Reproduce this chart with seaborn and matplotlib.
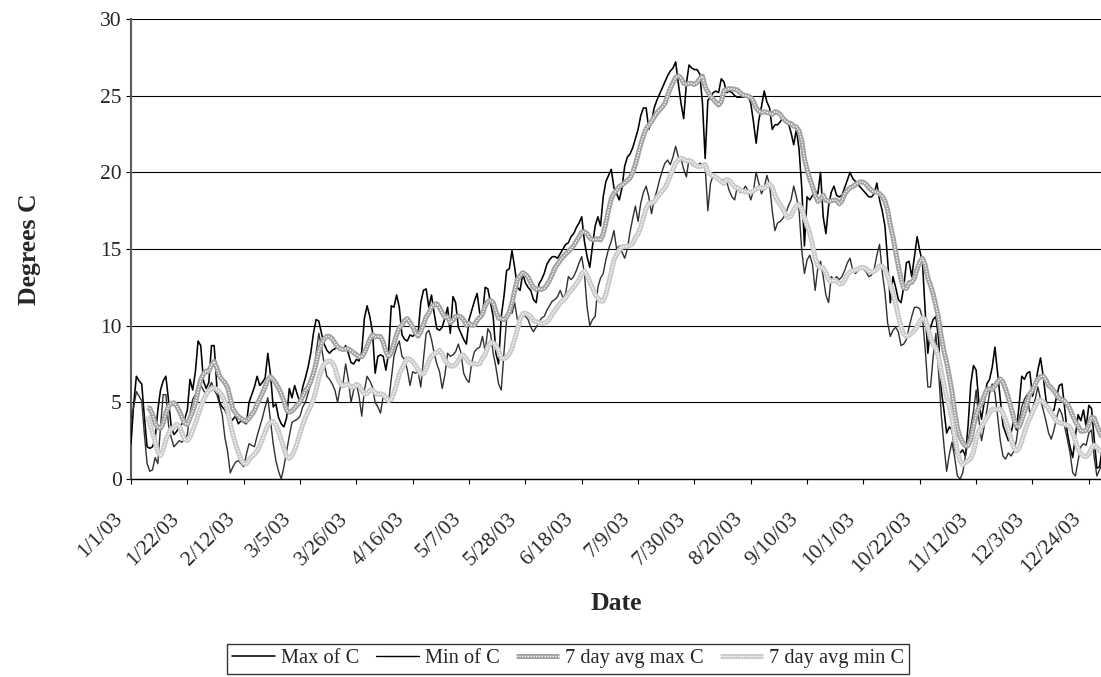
import numpy as np
import pandas as pd
import matplotlib
matplotlib.use("Agg")
import matplotlib.pyplot as plt
import seaborn as sns
from matplotlib.lines import Line2D
from matplotlib.legend_handler import HandlerTuple
from matplotlib.transforms import ScaledTranslation

# Daily maximum temperature (deg C), 2003, one list per month
max_jan = [2.3, 4.9, 6.7, 6.4, 6.2, 4.0, 2.1, 2.0, 2.1, 2.6, 4.5, 5.8, 6.4, 6.7, 5.1, 3.4,
           2.9, 3.1, 3.4, 3.6, 3.9, 4.5, 6.5, 5.8, 7.0, 9.0, 8.7, 6.4, 5.9, 6.3, 8.7]
max_feb = [8.7, 6.0, 5.0, 4.7, 4.5, 4.1, 3.7, 3.9, 4.1, 3.6, 3.8, 3.7, 3.6, 5.0, 5.5, 6.0,
           6.7, 6.1, 6.3, 6.6, 8.2, 6.8, 4.7, 4.9, 4.0, 3.6, 3.4, 4.0]
max_mar = [5.9, 5.3, 6.1, 5.5, 5.0, 6.0, 6.6, 7.3, 8.2, 9.5, 10.4, 10.3, 9.5, 8.8, 8.4, 8.2,
           8.4, 8.5, 8.6, 8.6, 8.4, 8.7, 8.2, 7.6, 7.5, 7.8, 7.7, 8.3, 10.5, 11.3, 10.6]
max_apr = [9.6, 6.9, 8.0, 8.1, 8.0, 7.1, 8.2, 11.3, 11.2, 12.0, 11.2, 9.4, 9.1, 9.0, 9.4,
           9.3, 9.5, 9.5, 11.5, 12.3, 12.4, 11.2, 12.0, 10.8, 9.8, 9.7, 9.9, 10.5, 11.2, 9.5]
max_may = [11.9, 11.5, 9.9, 9.5, 9.1, 8.8, 10.4, 11.0, 11.6, 12.1, 10.8, 10.6, 12.5, 12.4,
           11.5, 10.6, 8.2, 7.5, 10.6, 11.9, 13.6, 13.7, 14.9, 13.8, 12.5, 12.3, 13.4, 12.8,
           12.5, 12.3, 11.7]
max_jun = [11.5, 12.7, 13.0, 13.4, 14.0, 14.3, 14.5, 14.5, 14.4, 14.7, 15.0, 15.3, 15.4,
           15.8, 16.0, 16.4, 16.7, 17.1, 15.5, 14.5, 13.8, 15.2, 16.5, 17.1, 16.5, 18.4,
           19.4, 19.8, 20.2, 19.0]
max_jul = [18.6, 18.2, 19.0, 20.4, 21.0, 21.2, 21.6, 22.2, 22.8, 23.7, 24.2, 24.2, 22.8,
           23.3, 24.2, 24.7, 25.1, 25.5, 25.9, 26.3, 26.6, 26.8, 27.2, 25.8, 24.5, 23.5,
           25.8, 27.0, 26.8, 26.7, 26.7]
max_aug = [26.4, 24.5, 20.9, 24.7, 24.9, 25.2, 25.3, 25.2, 26.1, 25.9, 25.2, 25.3, 25.2,
           25.0, 24.9, 24.9, 24.9, 24.9, 25.0, 24.5, 23.3, 21.9, 23.4, 24.3, 25.3, 24.6,
           24.2, 22.8, 23.1, 23.1, 23.3]
max_sep = [23.6, 23.4, 23.2, 22.6, 21.8, 22.8, 21.5, 19.0, 15.2, 18.4, 18.2, 18.5, 18.8,
           18.6, 20.0, 17.1, 16.0, 17.8, 18.7, 19.1, 18.5, 18.4, 18.5, 19.0, 19.5, 20.0,
           19.6, 19.4, 19.2, 19.0]
max_oct = [18.8, 18.6, 18.4, 18.4, 18.6, 19.3, 18.2, 17.5, 16.5, 14.3, 11.5, 13.2, 12.5,
           11.7, 11.5, 12.5, 14.1, 14.2, 13.2, 14.5, 15.8, 14.9, 14.1, 11.0, 8.2, 9.9, 10.4,
           10.6, 9.1, 5.8, 4.5]
max_nov = [3.0, 3.4, 3.2, 1.9, 1.5, 1.7, 1.9, 1.5, 3.5, 6.2, 7.4, 7.1, 5.0, 3.9, 5.0, 6.2,
           6.5, 7.3, 8.6, 6.9, 5.2, 3.5, 3.0, 2.5, 3.0, 3.8, 3.2, 4.8, 6.7, 6.5]
max_dec = [6.9, 7.0, 5.4, 6.0, 7.1, 7.9, 6.7, 5.2, 4.4, 4.4, 4.5, 5.4, 6.1, 6.2, 4.6, 3.0,
           2.1, 1.4, 2.8, 4.2, 3.8, 4.5, 3.4, 4.8, 4.6, 2.6, 0.7, 0.8, 2.0, 3.0, 3.5]

# Daily minimum temperature (deg C), 2003, one list per month
min_jan = [4.0, 4.7, 5.7, 5.4, 5.1, 2.9, 1.0, 0.5, 0.6, 1.4, 1.0, 3.4, 5.5, 5.5, 3.5, 2.7,
           2.1, 2.3, 2.5, 2.4, 2.6, 2.9, 4.3, 5.2, 5.5, 6.2, 6.1, 5.8, 5.5, 5.9, 6.3]
min_feb = [5.8, 5.5, 4.9, 4.2, 2.7, 1.8, 0.4, 0.8, 1.1, 1.2, 1.0, 0.8, 1.6, 2.3, 2.2, 2.1,
           2.8, 3.4, 4.0, 4.7, 5.3, 3.8, 2.3, 1.2, 0.5, 0.0, 0.8, 1.8]
min_mar = [2.8, 3.7, 3.8, 3.9, 4.1, 4.7, 5.0, 5.6, 6.2, 6.9, 8.2, 9.5, 8.6, 7.5, 6.7, 6.5,
           6.2, 5.8, 5.0, 6.0, 6.2, 7.5, 6.5, 5.0, 5.8, 6.2, 5.4, 4.1, 5.8, 6.7, 6.4]
min_apr = [6.0, 5.0, 4.7, 4.3, 5.4, 5.4, 5.0, 6.5, 8.0, 8.6, 9.0, 8.0, 7.8, 7.1, 6.1, 7.0,
           6.9, 7.0, 6.0, 7.8, 9.5, 9.7, 9.1, 8.2, 7.5, 7.0, 5.9, 6.8, 8.2, 8.0]
min_may = [8.1, 8.3, 8.8, 8.2, 6.9, 6.5, 6.3, 7.6, 8.3, 8.5, 8.6, 9.3, 8.3, 9.8, 9.5, 8.2,
           7.3, 6.2, 5.8, 8.2, 10.4, 11.0, 10.8, 11.5, 10.4, 10.6, 10.8, 10.6, 10.4, 9.9, 9.6]
min_jun = [9.9, 10.2, 10.5, 10.6, 11.0, 11.3, 11.6, 11.7, 11.9, 12.3, 11.8, 12.1, 13.2,
           13.0, 13.2, 13.6, 14.1, 14.5, 13.4, 11.2, 10.0, 10.4, 10.6, 12.5, 13.1, 13.4,
           14.3, 15.0, 15.5, 16.2]
min_jul = [15.0, 15.2, 14.8, 14.4, 15.0, 16.1, 17.0, 17.8, 16.8, 18.0, 18.7, 19.1, 18.4,
           17.3, 18.2, 18.8, 19.5, 20.1, 20.6, 20.8, 20.5, 21.0, 21.7, 21.0, 20.9, 20.2,
           19.7, 20.9, 20.5, 20.4, 20.3]
min_aug = [20.6, 20.5, 20.4, 17.5, 19.3, 19.8, 19.7, 19.6, 19.5, 19.5, 19.4, 18.8, 18.4,
           18.2, 19.1, 18.7, 18.8, 19.1, 18.8, 18.2, 18.8, 20.0, 19.3, 18.6, 19.0, 19.8,
           19.2, 17.5, 16.2, 16.7, 16.8]
min_sep = [17.0, 17.3, 17.8, 18.2, 19.1, 18.4, 17.5, 14.9, 13.4, 14.3, 14.6, 14.0, 12.3,
           13.8, 14.2, 13.2, 12.0, 11.5, 13.2, 13.0, 13.2, 13.0, 13.2, 13.6, 14.1, 14.4,
           13.6, 13.4, 13.6, 13.8]
min_oct = [13.7, 13.5, 13.2, 13.3, 13.7, 14.6, 15.3, 13.5, 12.2, 10.2, 9.3, 9.7, 9.9, 9.6,
           8.7, 8.8, 9.1, 9.9, 10.6, 11.2, 11.2, 11.1, 10.5, 8.5, 6.0, 6.0, 8.0, 9.5, 7.0,
           4.2, 2.2]
min_nov = [0.5, 1.6, 2.4, 1.4, 0.2, 0.0, 0.4, 1.5, 2.5, 3.4, 4.4, 5.8, 3.9, 2.5, 3.4, 4.5,
           5.6, 6.2, 5.6, 4.1, 2.5, 1.5, 1.3, 1.7, 1.5, 1.8, 2.5, 3.8, 4.7, 5.2]
min_dec = [5.5, 4.3, 4.6, 5.2, 6.0, 5.2, 4.5, 3.8, 3.0, 2.6, 3.2, 4.0, 4.6, 4.2, 3.4, 2.6,
           1.7, 0.4, 0.2, 1.2, 2.1, 2.3, 2.2, 3.0, 3.2, 1.4, 0.2, 0.6, 1.2, 1.8, 2.0]

# Category labels shown on the date axis, one every 21 days
tick_labels = ["1/1/03", "1/22/03", "2/12/03", "3/5/03", "3/26/03", "4/16/03", "5/7/03",
               "5/28/03", "6/18/03", "7/9/03", "7/30/03", "8/20/03", "9/10/03", "10/1/03",
               "10/22/03", "11/12/03", "12/3/03", "12/24/03"]
tick_step = 21

series_names = ["Max of C", "Min of C", "7 day avg max C", "7 day avg min C"]

tmax = np.concatenate([max_jan, max_feb, max_mar, max_apr, max_may, max_jun,
                       max_jul, max_aug, max_sep, max_oct, max_nov, max_dec])
tmin = np.concatenate([min_jan, min_feb, min_mar, min_apr, min_may, min_jun,
                       min_jul, min_aug, min_sep, min_oct, min_nov, min_dec])

df = pd.DataFrame({"day": np.arange(len(tmax)), "max_c": tmax, "min_c": tmin})
# trailing seven-day means
df["avg_max"] = df["max_c"].rolling(7).mean()
df["avg_min"] = df["min_c"].rolling(7).mean()

sns.set_style("white")
plt.rcParams["font.family"] = ["Liberation Serif", "DejaVu Serif"]

W, H = 1101, 677
fig = plt.figure(figsize=(W / 100, H / 100), dpi=100)
px_per_day = 2.683
ax = fig.add_axes([131 / W, (H - 479) / H, 364 * px_per_day / W, 460 / H])

AVG_MAX_COL = "#a2a2a2"
AVG_MIN_COL = "#cacaca"
BAND_LW = 3.6
DOT_LW = 1.0
DOT_LS = (0, (1.0, 1.0))

sns.lineplot(data=df, x="day", y="max_c", color="black", linewidth=1.15,
             estimator=None, ax=ax, zorder=3)
sns.lineplot(data=df, x="day", y="min_c", color="#303030", linewidth=1.0,
             estimator=None, ax=ax, zorder=3)
for col, shade in (("avg_max", AVG_MAX_COL), ("avg_min", AVG_MIN_COL)):
    sub = df.dropna(subset=[col])
    sns.lineplot(data=sub, x="day", y=col, color=shade, linewidth=BAND_LW,
                 estimator=None, ax=ax, zorder=4, solid_capstyle="butt")
    sns.lineplot(data=sub, x="day", y=col, color="white", linewidth=DOT_LW,
                 estimator=None, ax=ax, zorder=5, linestyle=DOT_LS)

ax.set_xlim(0, 364)
ax.set_ylim(0, 30)
ax.set_yticks(range(0, 31, 5))
ax.yaxis.grid(True, color="black", linewidth=0.8)
ax.xaxis.grid(False)
ax.set_axisbelow(True)

for side in ("top", "right"):
    ax.spines[side].set_visible(False)
ax.spines["left"].set_color("#5a5a5a")
ax.spines["left"].set_linewidth(1.5)
ax.spines["bottom"].set_color("black")
ax.spines["bottom"].set_linewidth(1.0)

ax.tick_params(axis="y", direction="out", length=3.6, width=0.8, color="black",
               labelsize=15.5, pad=3, left=True)
ax.tick_params(axis="x", direction="out", length=3.6, width=0.8, color="black",
               labelsize=15.5, pad=23, bottom=True)
ax.set_xticks(np.arange(len(tick_labels)) * tick_step)
ax.set_xticklabels(tick_labels, rotation=45, ha="right", va="center",
                   rotation_mode="anchor")
shift = ScaledTranslation(-11 / 100, 0, fig.dpi_scale_trans)
for lbl in ax.get_xticklabels():
    lbl.set_transform(lbl.get_transform() + shift)

ax.set_xlabel("Date", fontsize=18.5, fontweight="bold")
ax.xaxis.set_label_coords((616 - 131) / (364 * px_per_day), (479 - 592) / 460)
ax.set_ylabel("Degrees C", fontsize=18.5, fontweight="bold")
ax.yaxis.set_label_coords((41 - 131) / (364 * px_per_day), 0.5)

handles = [
    Line2D([], [], color="black", linewidth=1.15),
    Line2D([], [], color="black", linewidth=1.0),
    (Line2D([], [], color=AVG_MAX_COL, linewidth=BAND_LW, solid_capstyle="butt"),
     Line2D([], [], color="white", linewidth=DOT_LW, linestyle=DOT_LS)),
    (Line2D([], [], color=AVG_MIN_COL, linewidth=BAND_LW, solid_capstyle="butt"),
     Line2D([], [], color="white", linewidth=DOT_LW, linestyle=DOT_LS)),
]
leg = fig.legend(handles, series_names, loc="upper center",
                 bbox_to_anchor=(568 / W, 1 - 644 / H), ncol=4, frameon=True,
                 fancybox=False, shadow=False, edgecolor="black", fontsize=14.7,
                 handlelength=2.1, handletextpad=0.3, columnspacing=0.8,
                 borderpad=0.25, borderaxespad=0,
                 handler_map={tuple: HandlerTuple(ndivide=1, pad=0)})
leg.get_frame().set_linewidth(1.0)

fig.savefig("out.png", dpi=100)
